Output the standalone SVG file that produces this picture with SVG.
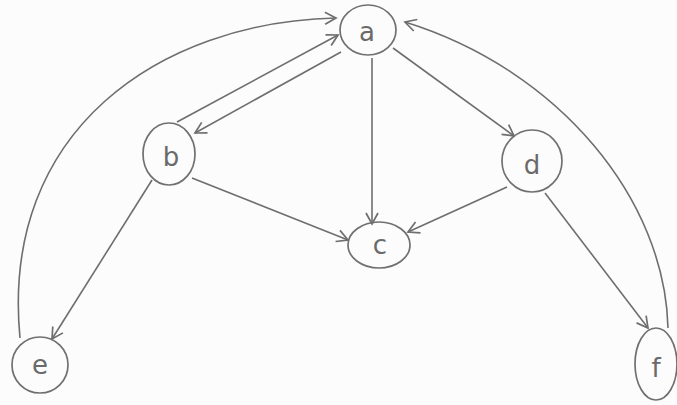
<svg xmlns="http://www.w3.org/2000/svg" width="677" height="405" viewBox="0 0 677 405">
<defs>
<style>
.node ellipse{fill:none;stroke:#707070;stroke-width:1.7}
.node text{font-family:"DejaVu Sans","Liberation Sans",sans-serif;font-size:26px;fill:#6a6a6a;text-anchor:middle}
.edge{fill:none;stroke:#6e6e6e;stroke-width:1.6;marker-end:url(#arr)}
</style>
<marker id="arr" markerUnits="userSpaceOnUse" markerWidth="16" markerHeight="16" refX="12" refY="7" orient="auto">
<path d="M1,1 L12,7 L1,13" fill="none" stroke="#6e6e6e" stroke-width="1.7"/>
</marker>
</defs>
<rect width="677" height="405" fill="#fcfcfc"/>
<g id="connectors">
<path class="edge" d="M20,338 C0,130 160,22 336,18"/>
<path class="edge" d="M668,328 C665,200 560,70 405,22"/>
<path class="edge" d="M177,122 L338,35"/>
<path class="edge" d="M341,52 L195,133"/>
<path class="edge" d="M372,58 L372,224"/>
<path class="edge" d="M393,48 L514,136"/>
<path class="edge" d="M192,178 L348,240"/>
<path class="edge" d="M507,187 L408,232"/>
<path class="edge" d="M152,180 L52,339"/>
<path class="edge" d="M545,193 L648,328"/>
</g>
<g id="node-a" class="node"><ellipse cx="368" cy="30" rx="28" ry="25"/><text x="367" y="41">a</text></g>
<g id="node-b" class="node"><ellipse cx="169" cy="154" rx="26" ry="31"/><text x="171" y="166">b</text></g>
<g id="node-c" class="node"><ellipse cx="379" cy="245" rx="31" ry="23"/><text x="380" y="254">c</text></g>
<g id="node-d" class="node"><ellipse cx="532" cy="161" rx="30" ry="31"/><text x="532" y="174">d</text></g>
<g id="node-e" class="node"><ellipse cx="40" cy="365" rx="28" ry="28"/><text x="40" y="374">e</text></g>
<g id="node-f" class="node"><ellipse cx="656" cy="364" rx="21" ry="36"/><text x="656" y="377">f</text></g>
</svg>
